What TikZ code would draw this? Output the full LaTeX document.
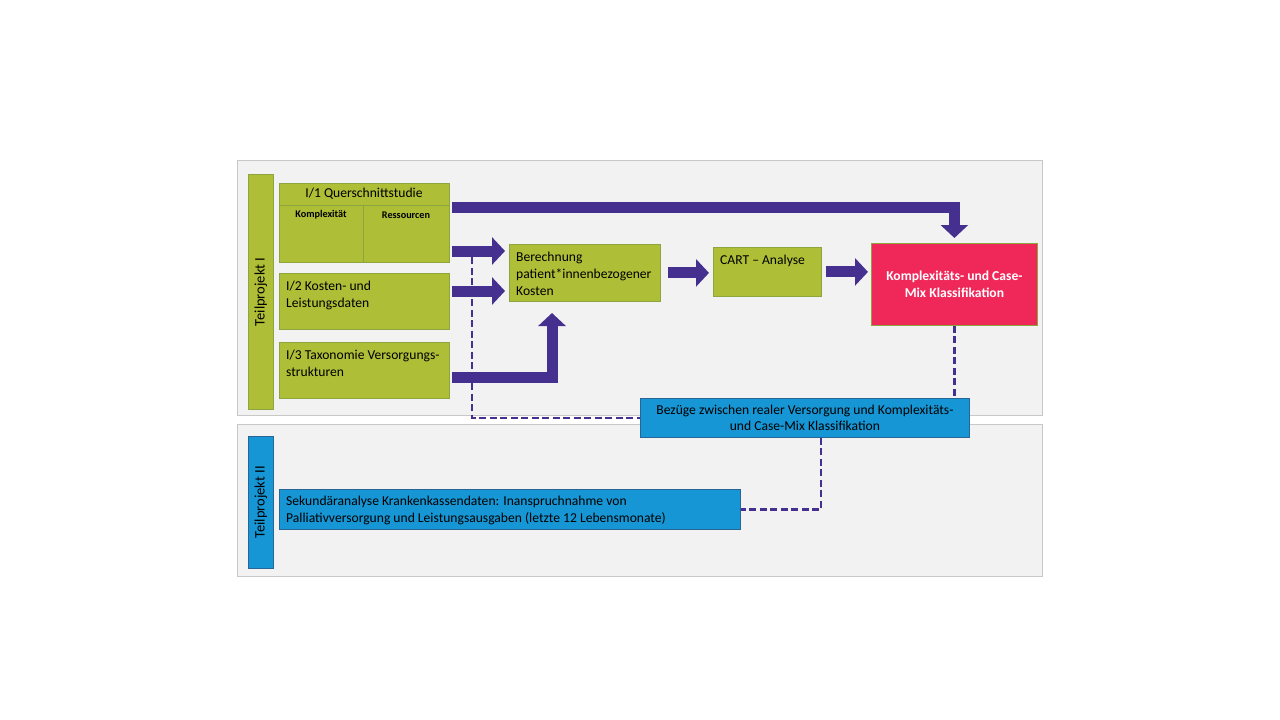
\documentclass[tikz,border=0pt]{standalone}
\usepackage{fontspec}
\setmainfont{Carlito}
\usepackage{tikz}
\usetikzlibrary{arrows.meta}

\definecolor{paneel}{RGB}{242,242,242}
\definecolor{paneelrand}{RGB}{200,200,200}
\definecolor{gruen}{RGB}{174,190,55}
\definecolor{gruenrand}{RGB}{140,165,60}
\definecolor{blau}{RGB}{22,150,212}
\definecolor{blaurand}{RGB}{40,100,150}
\definecolor{pink}{RGB}{240,40,90}
\definecolor{lila}{RGB}{70,48,143}

\tikzset{
  paneelbox/.style={draw=paneelrand,fill=paneel,line width=0.8pt,anchor=north west,inner sep=0pt},
  gruenbox/.style={draw=gruenrand,fill=gruen,line width=0.8pt,anchor=north west,inner sep=0pt},
  blaubox/.style={draw=blaurand,fill=blau,line width=0.8pt,anchor=north west,inner sep=0pt},
  boxtext/.style={anchor=north west,inner sep=0pt,align=left,font=\fontsize{13.6}{16.8}\selectfont},
  fett/.style={line width=11pt,draw=lila,-{Triangle[width=27pt,length=13pt]}},
  strich/.style={line width=2.5pt,draw=lila,dash pattern=on 7pt off 3.5pt}
}

\begin{document}
\begin{tikzpicture}[x=1pt,y=-1pt]
\useasboundingbox (0,0) rectangle (1280,720);

\node[paneelbox,minimum width=805,minimum height=255] (p1) at (237,160) {};
\node[paneelbox,minimum width=805,minimum height=152] (p2) at (237,424) {};

\node[gruenbox,minimum width=25,minimum height=235] (tp1) at (248,174) {};
\node[rotate=90,font=\fontsize{14.5}{16}\selectfont] (tp1t) at (tp1.center) {Teilprojekt I};
\node[blaubox,minimum width=25,minimum height=132] (tp2) at (248,436) {};
\node[rotate=90,font=\fontsize{14.5}{16}\selectfont] (tp2t) at (tp2.center) {Teilprojekt II};

\node[gruenbox,minimum width=170,minimum height=79] (q1) at (279,183) {};
\draw[gruenrand,line width=0.8pt] (279,205) -- (449,205);
\draw[gruenrand,line width=0.8pt] (363,205) -- (363,262);
\node[font=\fontsize{13.6}{16}\selectfont] (q1t) at (364,194) {I/1 Querschnittstudie};
\node[font=\bfseries\fontsize{10.2}{12}\selectfont] (q1k) at (321,215) {Komplexität};
\node[font=\bfseries\fontsize{10.2}{12}\selectfont] (q1r) at (406,215) {Ressourcen};

\node[gruenbox,minimum width=170,minimum height=56] (q2) at (279,273) {};
\node[boxtext] (q2t) at (286,281) {I/2 Kosten- und\\Leistungsdaten};
\node[gruenbox,minimum width=170,minimum height=56] (q3) at (279,342) {};
\node[boxtext] (q3t) at (286,350) {I/3 Taxonomie Versorgungs-\\strukturen};

\node[gruenbox,minimum width=151,minimum height=57] (ber) at (509,244) {};
\node[boxtext] (bert) at (516,252) {Berechnung\\patient*innenbezogener\\Kosten};
\node[gruenbox,minimum width=108,minimum height=49] (cart) at (713,247) {};
\node[boxtext] (cartt) at (720,255) {CART -- Analyse};
\node[draw=gruenrand,fill=pink,line width=0.8pt,anchor=north west,minimum width=166,minimum height=82] (kmc) at (871,243) {};
\node[align=center,text=white,font=\bfseries\fontsize{13.6}{16.8}\selectfont] (kmct) at (kmc.center) {Komplexitäts- und Case-\\Mix Klassifikation};

\node[blaubox,minimum width=329,minimum height=39] (bez) at (640,398) {};
\node[align=center,font=\fontsize{13.6}{16}\selectfont] (bezt) at (bez.center) {Bezüge zwischen realer Versorgung und Komplexitäts-\\und Case-Mix Klassifikation};
\node[blaubox,minimum width=461,minimum height=40] (sek) at (279,489) {};
\node[boxtext] (sekt) at (286,496) {Sekundäranalyse Krankenkassendaten: Inanspruchnahme von\\Palliativversorgung und Leistungsausgaben (letzte 12 Lebensmonate)};

\coordinate (a1) at (452,207.5);
\coordinate (a2) at (452,251);
\coordinate (a3) at (452,291);
\coordinate (a4) at (452,377);
\coordinate (b4) at (552,301);
\coordinate (d1) at (472,257);

\draw[strich] (d1) |- (bez.west);
\draw[strich] (kmc.south) -- (kmc.south |- bez.north);
\draw[strich] ([xshift=16pt]bez.south) |- (sek.east);

\draw[fett,shorten >=5pt] (a1) -| (kmc.north);
\draw[fett,shorten >=4pt] (a2) -- (ber.west |- a2);
\draw[fett,shorten >=4pt] (a3) -- (ber.west |- a3);
\draw[fett,shorten >=12pt] (a4) -| (b4);
\draw[fett,shorten <=7pt,shorten >=4pt] (ber.east) -- (ber.east -| cart.west);
\draw[fett,shorten <=4pt,shorten >=3pt] (cart.east) -- (cart.east -| kmc.west);
\end{tikzpicture}
\end{document}
